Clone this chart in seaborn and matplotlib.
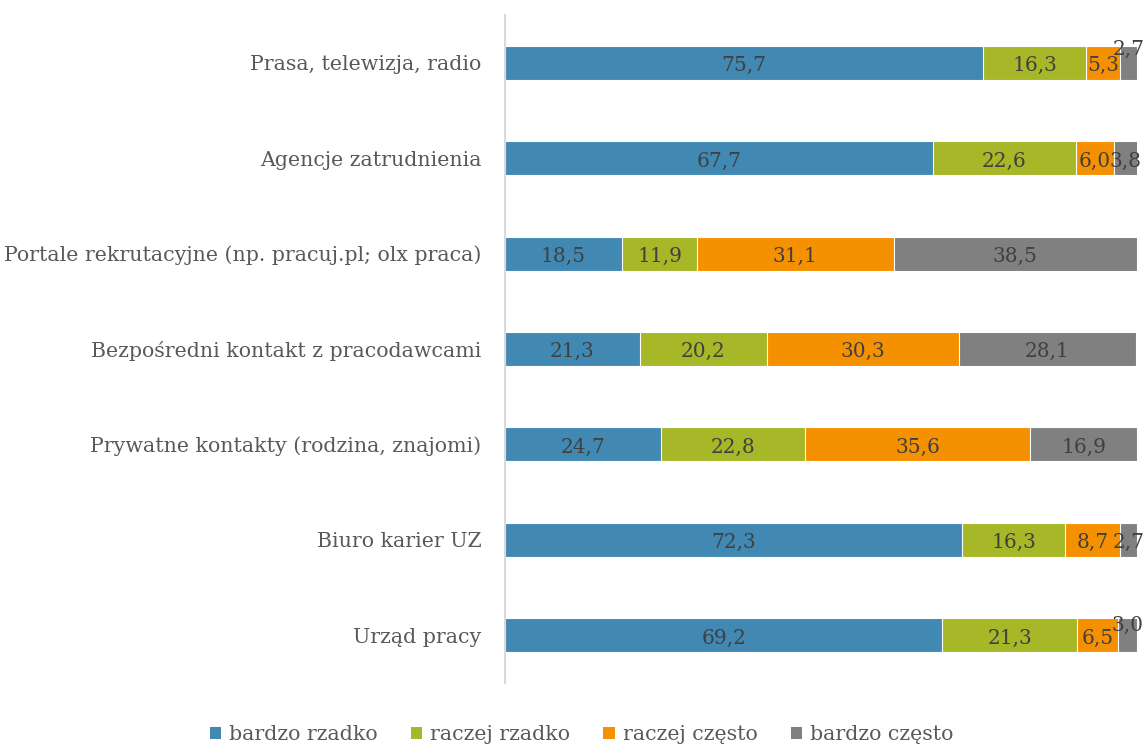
import matplotlib
matplotlib.use("Agg")
import matplotlib.pyplot as plt
import seaborn as sns
import pandas as pd
import numpy as np
from matplotlib.patches import Patch

categories = [
    "Prasa, telewizja, radio",
    "Agencje zatrudnienia",
    "Portale rekrutacyjne (np. pracuj.pl; olx praca)",
    "Bezpośredni kontakt z pracodawcami",
    "Prywatne kontakty (rodzina, znajomi)",
    "Biuro karier UZ",
    "Urząd pracy",
]
series_names = ["bardzo rzadko", "raczej rzadko", "raczej często", "bardzo często"]
bardzo_rzadko = [75.7, 67.7, 18.5, 21.3, 24.7, 72.3, 69.2]
raczej_rzadko = [16.3, 22.6, 11.9, 20.2, 22.8, 16.3, 21.3]
raczej_czesto = [5.3, 6.0, 31.1, 30.3, 35.6, 8.7, 6.5]
bardzo_czesto = [2.7, 3.8, 38.5, 28.1, 16.9, 2.7, 3.0]

colors = ["#4189B3", "#A6B727", "#F59100", "#808080"]

sns.set_theme(style="white")
plt.rcParams["font.family"] = ["DejaVu Serif"]

series = [bardzo_rzadko, raczej_rzadko, raczej_czesto, bardzo_czesto]
cum = np.zeros(len(categories))
cums = []
for s in series:
    cum = cum + np.array(s)
    cums.append(cum.copy())

fig = plt.figure(figsize=(11.45, 7.47), dpi=100)
ax = fig.add_axes([505/1145, 1-683/747, 632/1145, 668/747])

# draw cumulative layers from largest to smallest
for i in range(len(series) - 1, -1, -1):
    d = pd.DataFrame({"cat": categories, "val": cums[i]})
    sns.barplot(data=d, y="cat", x="val", color=colors[i], ax=ax,
                width=0.356, orient="h", edgecolor="white", linewidth=0.8,
                saturation=1)

ax.set_xlim(0, 100)
ax.set_ylim(6.5, -0.5)
ax.set_xlabel("")
ax.set_ylabel("")
ax.set_xticks([])
for sp in ["top", "right", "bottom"]:
    ax.spines[sp].set_visible(False)
ax.spines["left"].set_color("#D9D9D9")
ax.spines["left"].set_linewidth(1.5)
ax.tick_params(axis="y", length=0, pad=17, labelsize=14.8, labelcolor="#595959")

# data labels
raise_labels = {(0, 3): -0.17, (6, 3): -0.13}
for i in range(len(categories)):
    left = 0.0
    for j, s in enumerate(series):
        v = s[i]
        xc = left + v / 2
        dy = raise_labels.get((i, j), 0.0)
        ax.text(xc, i + dy + 0.03, f"{v:.1f}".replace(".", ","), ha="center", va="center",
                fontsize=14.5, color="#404040", clip_on=False)
        left += v

handles = [Patch(facecolor=c, edgecolor="none") for c in colors]
fig.legend(handles, series_names, loc="center", bbox_to_anchor=(0.508, 1-735/747),
           ncol=4, frameon=False, fontsize=14.8, handlelength=0.55, handleheight=0.55,
           handletextpad=0.4, columnspacing=1.6, labelcolor="#595959")

fig.savefig("out.png", dpi=100)
